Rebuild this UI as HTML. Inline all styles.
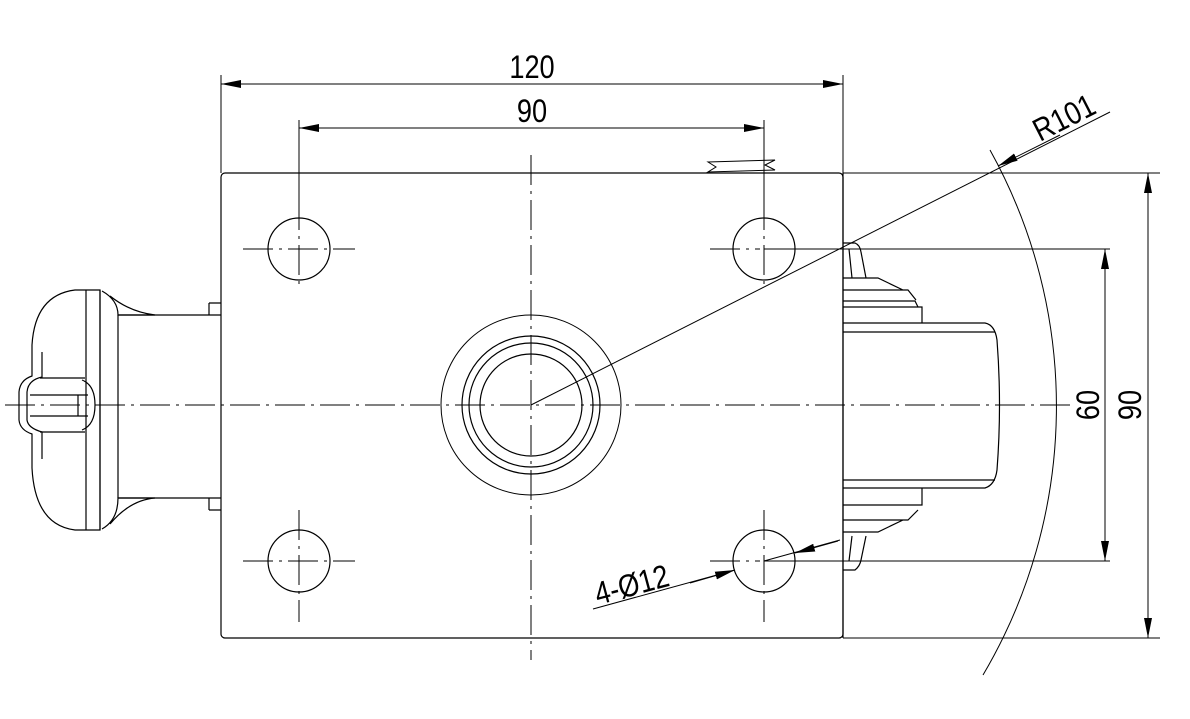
<!DOCTYPE html>
<html><head><meta charset="utf-8"><style>html,body{margin:0;padding:0;background:#fff}svg{display:block}</style></head>
<body>
<svg width="1190" height="719" viewBox="0 0 1190 719" xmlns="http://www.w3.org/2000/svg" font-family="Liberation Sans, sans-serif">
<defs>
<marker id="a" viewBox="0 0 20 8" refX="20" refY="4" markerWidth="20" markerHeight="8" markerUnits="userSpaceOnUse" orient="auto"><path d="M0,0 L20,4 L0,8 Z" fill="#000"/></marker>
</defs>
<g fill="none" stroke="#000" stroke-width="1.2">
<rect x="221" y="173" width="622" height="465" rx="4"/>
<circle cx="299" cy="249" r="31"/><circle cx="764" cy="249" r="31"/>
<circle cx="299" cy="561" r="31"/><circle cx="764" cy="561" r="31"/>
<circle cx="531" cy="405" r="90" stroke-width="1"/>
<circle cx="531" cy="405" r="69"/>
<circle cx="531" cy="405" r="62"/>
<circle cx="531" cy="405" r="51"/>
<g stroke-width="1" stroke-dasharray="30,6,3,6">
<line x1="5" y1="405" x2="1070" y2="405"/>
<line x1="531" y1="155" x2="531" y2="660"/>
<line x1="243" y1="249" x2="355" y2="249"/><line x1="299" y1="200" x2="299" y2="290"/>
<line x1="243" y1="561" x2="355" y2="561"/><line x1="299" y1="510" x2="299" y2="622"/>
<line x1="710" y1="249" x2="760" y2="249"/><line x1="764" y1="200" x2="764" y2="290"/>
<line x1="710" y1="561" x2="760" y2="561"/><line x1="764" y1="510" x2="764" y2="622"/>
</g>
<line x1="221" y1="75" x2="221" y2="173" stroke-width="1"/>
<line x1="843" y1="75" x2="843" y2="173" stroke-width="1"/>
<line x1="221" y1="84" x2="843" y2="84" stroke-width="1"/>
<line x1="299" y1="120" x2="299" y2="218" stroke-width="1"/>
<line x1="764" y1="120" x2="764" y2="218" stroke-width="1"/>
<line x1="843" y1="173" x2="1160" y2="173" stroke-width="1"/>
<line x1="843" y1="638" x2="1160" y2="638" stroke-width="1"/>
<line x1="764" y1="249" x2="1110" y2="249" stroke-width="1"/>
<line x1="764" y1="561" x2="1110" y2="561" stroke-width="1"/>
<path d="M990,150 A528,528 0 0 1 983,675" stroke-width="1"/>
<line x1="531" y1="405" x2="1110" y2="112" stroke-width="1"/>
<line x1="593" y1="609" x2="735" y2="570" stroke-width="1"/>
<line x1="764" y1="561" x2="840" y2="540" stroke-width="1"/>
<path d="M118,315 L221,315 M118,498 L221,498 M118,315 L118,498"/>
<path d="M209,303 h12 M209,303 v12 M209,510 h12 M209,510 v-12"/>
<path d="M100,290 L75,290 Q35,295 32,345 L32,376 Q20,380 19,392 L19,420 Q20,430 32,434 L32,468 Q35,525 75,530 L100,530 Z"/>
<path d="M86,290 L86,530 M100,290 L100,530"/>
<path d="M42,352 L42,377 Q28,380 27,392 L27,420 Q28,428 42,432 L42,459"/>
<path d="M40,378 h45 M40,432 h45 M30,395 h58 M30,416 h58 M78,395 v21 M82,380 Q95,385 95,405 Q95,425 82,430"/>
<path d="M102,291 Q118,300 118,315 L155,315 Q130,312 110,296 M102,529 Q118,520 118,498 L155,498 Q130,500 110,524"/>
<path d="M843,323 L985,323 Q995,325 997,340 Q1002,405 997,470 Q995,485 985,488 L843,488"/>
<path d="M843,332 H995 M843,480 H995"/>
<path d="M843,307 L922,307 L922,323 M843,505 L922,505 L922,488"/>
<path d="M843,301 H915 L918,307 M843,290 H908 L916,300 M843,278 H878 L903,290 M843,520 L908,520 L918,510 M843,532 H878 L903,520"/>
<path d="M843,243 L855,243 Q860,245 861,252 L866,278 M849,249 L852,278"/>
<path d="M843,570 L855,570 Q860,566 861,560 L866,536 M849,561 L852,536"/>
<line x1="843" y1="173" x2="843" y2="638"/>
<path d="M708,162 L775,160 L765,165 L775,170 L708,172 L716,167 Z" stroke-width="1"/>
</g>
<g stroke="#000" stroke-width="1" fill="none">
<line x1="280" y1="84" x2="221" y2="84" marker-end="url(#a)"/>
<line x1="780" y1="84" x2="843" y2="84" marker-end="url(#a)"/>
<line x1="299" y1="128" x2="764" y2="128"/>
<line x1="350" y1="128" x2="299" y2="128" marker-end="url(#a)"/>
<line x1="700" y1="128" x2="764" y2="128" marker-end="url(#a)"/>
<line x1="1148" y1="173" x2="1148" y2="638"/>
<line x1="1148" y1="230" x2="1148" y2="173" marker-end="url(#a)"/>
<line x1="1148" y1="580" x2="1148" y2="638" marker-end="url(#a)"/>
<line x1="1105" y1="249" x2="1105" y2="561"/>
<line x1="1105" y1="300" x2="1105" y2="249" marker-end="url(#a)"/>
<line x1="1105" y1="510" x2="1105" y2="561" marker-end="url(#a)"/>
<line x1="1060" y1="135" x2="998" y2="166" marker-end="url(#a)"/>
<line x1="690" y1="583" x2="735" y2="570" marker-end="url(#a)"/>
<line x1="838" y1="541" x2="795" y2="553" marker-end="url(#a)"/>
</g>
<g font-size="32" fill="#000">
<text transform="translate(532,78) scale(0.85,1)" text-anchor="middle">120</text>
<text transform="translate(532,122) scale(0.85,1)" text-anchor="middle">90</text>
<text transform="translate(1099,405) rotate(-90) scale(0.85,1)" text-anchor="middle">60</text>
<text transform="translate(1141,405) rotate(-90) scale(0.85,1)" text-anchor="middle">90</text>
<text transform="translate(1040,142) rotate(-27) scale(0.85,1)">R101</text>
<text transform="translate(598,605) rotate(-15) scale(0.85,1)">4-Ø12</text>
</g>
</svg>
</body></html>
